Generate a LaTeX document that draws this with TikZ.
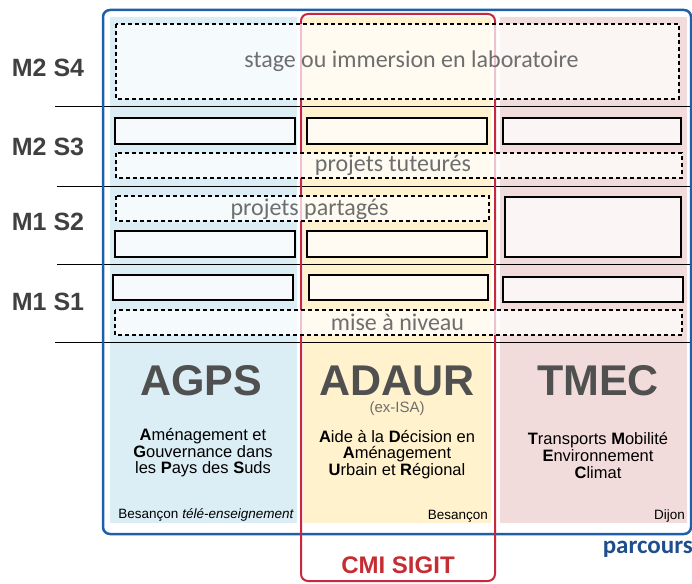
\documentclass[tikz,border=0pt]{standalone}
\usepackage{fontspec}
\setmainfont{Liberation Sans}
\newfontfamily\calib{Carlito}
\definecolor{colblue}{HTML}{DCEEF5}
\definecolor{colyellow}{HTML}{FFF2CC}
\definecolor{colpink}{HTML}{F2DCDB}
\definecolor{frameblue}{HTML}{1F5FAA}
\definecolor{framered}{HTML}{C8283E}
\definecolor{lblgray}{HTML}{6E6E6E}
\definecolor{titlegray}{HTML}{505050}
\definecolor{rowgray}{HTML}{404040}
\definecolor{parcblue}{HTML}{1F4E8C}
\definecolor{cmired}{HTML}{C62D32}
\tikzset{
  hline/.style={draw=black, line width=1pt},
  sbox/.style={draw=black, line width=1.1pt, fill=white, fill opacity=0.75},
  sboxthick/.style={draw=black, line width=1.6pt, fill=white, fill opacity=0.75},
  dbox/.style={draw=black, line width=1.1pt, dash pattern=on 4pt off 3pt, fill=white, fill opacity=0.72},
  boxlbl/.style={text=lblgray, font=\calib\fontsize{24}{28}\selectfont, anchor=base, inner sep=0pt},
  rowlbl/.style={text=rowgray, font=\bfseries\fontsize{25}{29}\selectfont, inner sep=0pt},
  title/.style={text=titlegray, font=\bfseries\fontsize{43}{48}\selectfont, anchor=base, inner sep=0pt, text depth=0pt},
  desc/.style={text=black, font=\fontsize{16.5}{18}\selectfont, anchor=base, inner sep=0pt},
  place/.style={text=black, font=\fontsize{13.5}{16}\selectfont, anchor=base east, inner sep=0pt}
}
\begin{document}
\begin{tikzpicture}[x=1pt,y=-1pt]
\useasboundingbox (0,0) rectangle (692,583);
% column backgrounds
\fill[colblue] (110,17) rectangle (297,523);
\fill[colyellow] (303,17) rectangle (491,523);
\fill[colpink] (500,17) rectangle (687,523);
% semester separators
\coordinate (l1a) at (55,106);  \coordinate (l1b) at (692,106);
\coordinate (l2a) at (57,186);  \coordinate (l2b) at (692,186);
\coordinate (l3a) at (57,264);  \coordinate (l3b) at (692,264);
\coordinate (l4a) at (55,342);  \coordinate (l4b) at (692,342);
\draw[hline] (l1a) -- (l1b);
\draw[hline] (l2a) -- (l2b);
\draw[hline] (l3a) -- (l3b);
\draw[hline] (l4a) -- (l4b);
% frames
\draw[frameblue, line width=2.5pt, rounded corners=7pt] (103,10) rectangle (691,534);
\draw[framered, line width=2pt, rounded corners=7pt] (301,14) rectangle (495,581);
% M2 S4
\path[dbox] (116,24) rectangle (679,99);
\node[boxlbl] (stage) at (411.5,68) {stage ou immersion en laboratoire};
% M2 S3
\path[sbox] (115,118) rectangle (295,144);
\path[sbox] (307,118) rectangle (487,144);
\path[sbox] (503,118) rectangle (681,144);
\path[dbox] (116,153) rectangle (682,178);
\node[boxlbl] (tut) at (393,171.5) {projets tuteurés};
% M1 S2
\path[dbox] (116,196) rectangle (489,221);
\node[boxlbl] (part) at (309.5,215) {projets partagés};
\path[sbox] (115,231) rectangle (295,257);
\path[sbox] (307,231) rectangle (487,257);
\path[sbox] (505,197) rectangle (681,257);
% M1 S1
\path[sboxthick] (113,275) rectangle (293,300);
\path[sboxthick] (309,275) rectangle (488,300);
\path[sboxthick] (503,277) rectangle (683,302);
\path[dbox] (115,310) rectangle (682,335);
\node[boxlbl] (mise) at (397.5,330) {mise à niveau};
% row labels
\node[rowlbl] (s4) at (48,68) {M2 S4};
\node[rowlbl] (s3) at (48,147) {M2 S3};
\node[rowlbl] (s2) at (48,222) {M1 S2};
\node[rowlbl] (s1) at (48,302) {M1 S1};
% parcours titles
\node[title] (agps) at (201,395) {AGPS};
\node[title] (adaur) at (397,395) {ADAUR};
\node[title] (tmec) at (598,395) {TMEC};
\node[text=lblgray, font=\fontsize{15}{18}\selectfont, anchor=base, inner sep=0pt] (exisa) at (397,412) {(ex-ISA)};
% descriptions
\node[desc] (a1) at (203,440) {\textbf{A}ménagement et};
\node[desc] (a2) at (203,457) {\textbf{G}ouvernance dans};
\node[desc] (a3) at (203,473.5) {les \textbf{P}ays des \textbf{S}uds};
\node[desc] (d1) at (397,442) {\textbf{A}ide à la \textbf{D}écision en};
\node[desc] (d2) at (397,458.5) {\textbf{A}ménagement};
\node[desc] (d3) at (397,475) {\textbf{U}rbain et \textbf{R}égional};
\node[desc] (t1) at (598,444) {\textbf{T}ransports \textbf{M}obilité};
\node[desc] (t2) at (598,461) {\textbf{E}nvironnement};
\node[desc] (t3) at (598,478) {\textbf{C}limat};
% places
\node[place] (pa) at (294,518) {Besançon \textit{télé-enseignement}};
\node[place] (pb) at (488,519) {Besançon};
\node[place] (pc) at (685,519) {Dijon};
% legends
\node[text=parcblue, font=\calib\bfseries\fontsize{25}{29}\selectfont, anchor=base east, inner sep=0pt] (parc) at (693,553) {parcours};
\node[text=cmired, font=\bfseries\fontsize{24}{28}\selectfont, anchor=base, inner sep=0pt] (cmi) at (398,573) {CMI SIGIT};
\end{tikzpicture}
\end{document}
